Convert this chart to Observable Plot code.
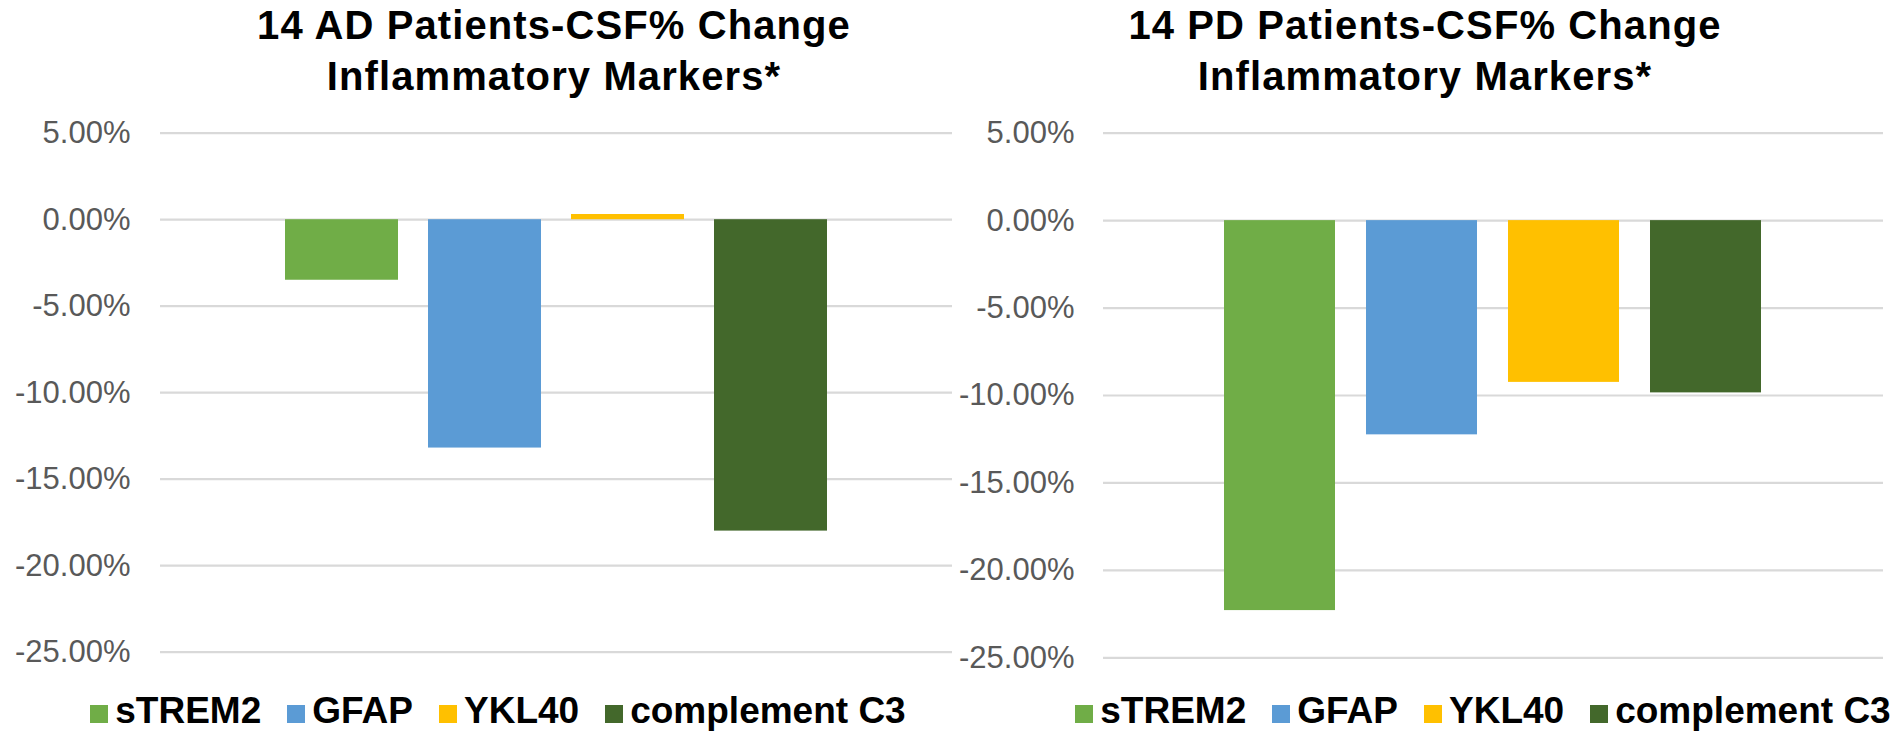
<!DOCTYPE html>
<html>
<head>
<meta charset="utf-8">
<script src="https://cdn.jsdelivr.net/npm/d3@7"></script>
<script src="https://cdn.jsdelivr.net/npm/@observablehq/plot@0.6"></script>
<style>
  html, body { margin: 0; padding: 0; background: #fff; }
  #wrap { position: relative; width: 1901px; height: 734px; overflow: hidden; font-family: "Liberation Sans", Arial, sans-serif; }
  .title { position: absolute; top: 0; width: 900px; text-align: center; font-weight: bold; font-size: 40px; line-height: 51px; letter-spacing: 1.1px; color: #000; white-space: nowrap; }
  .panel { position: absolute; top: 110px; }
  .legend { position: absolute; top: 691px; width: 900px; text-align: center; font-weight: bold; font-size: 37px; line-height: 40px; color: #000; white-space: nowrap; }
  .legend .item { display: inline-block; margin: 0 13px; }
  .legend .sw { display: inline-block; width: 18px; height: 18px; margin-right: 7px; vertical-align: baseline; }
</style>
</head>
<body>
<div id="wrap">
  <div class="title" id="t1" style="left:104px"></div>
  <div class="title" id="t2" style="left:975px"></div>
  <div class="panel" id="p1" style="left:0px"></div>
  <div class="panel" id="p2" style="left:960px"></div>
  <div class="legend" id="l1" style="left:48px"></div>
  <div class="legend" id="l2" style="left:1033px"></div>
</div>
<script>
const series = ["sTREM2", "GFAP", "YKL40", "complement C3"];
const seriesColors = ["#70AD47", "#5B9BD5", "#FFC000", "#43682B"];
const adValues = [-3.5, -13.2, 0.3, -18.0];
const pdValues = [-22.3, -12.25, -9.25, -9.85];
const yTicks = [5, 0, -5, -10, -15, -20, -25];
const adTitle = ["14 AD Patients-CSF% Change", "Inflammatory Markers*"];
const pdTitle = ["14 PD Patients-CSF% Change", "Inflammatory Markers*"];

function panel(values, o) {
  const data = series.map((s, i) => ({series: s, value: values[i]}));
  return Plot.plot({
    width: o.width,
    height: 570,
    marginLeft: o.ml,
    marginRight: o.mr,
    marginTop: 22.7,
    marginBottom: o.mb,
    style: {fontFamily: "'Liberation Sans', Arial, sans-serif", fontSize: "31px", color: "#595959", background: "transparent", overflow: "visible"},
    x: {domain: series, paddingInner: o.pi, paddingOuter: o.po, axis: null},
    y: {domain: [-25, 5], ticks: yTicks, tickFormat: d => d.toFixed(2) + "%", tickSize: 0, tickPadding: o.tp, label: null},
    color: {domain: series, range: seriesColors},
    marks: [
      Plot.ruleY(yTicks, {stroke: "#d9d9d9", strokeWidth: 2.2}),
      Plot.barY(data, {x: "series", y: "value", fill: "series", inset: 0})
    ]
  });
}

document.getElementById("p1").appendChild(panel(adValues, {width: 960, ml: 160, mr: 8, mb: 28.3, pi: 0.211, po: 0.869, tp: 30}));
document.getElementById("p2").appendChild(panel(pdValues, {width: 941, ml: 143, mr: 18, mb: 22.7, pi: 0.218, po: 0.855, tp: 29}));

function setTitle(id, lines) {
  const el = document.getElementById(id);
  lines.forEach(l => { const d = document.createElement("div"); d.textContent = l; el.appendChild(d); });
}
setTitle("t1", adTitle);
setTitle("t2", pdTitle);

function legend(id) {
  const el = document.getElementById(id);
  series.forEach((s, i) => {
    const it = document.createElement("span");
    it.className = "item";
    const sw = document.createElement("span");
    sw.className = "sw";
    sw.style.background = seriesColors[i];
    it.appendChild(sw);
    it.appendChild(document.createTextNode(s));
    el.appendChild(it);
  });
}
legend("l1");
legend("l2");
</script>
</body>
</html>
